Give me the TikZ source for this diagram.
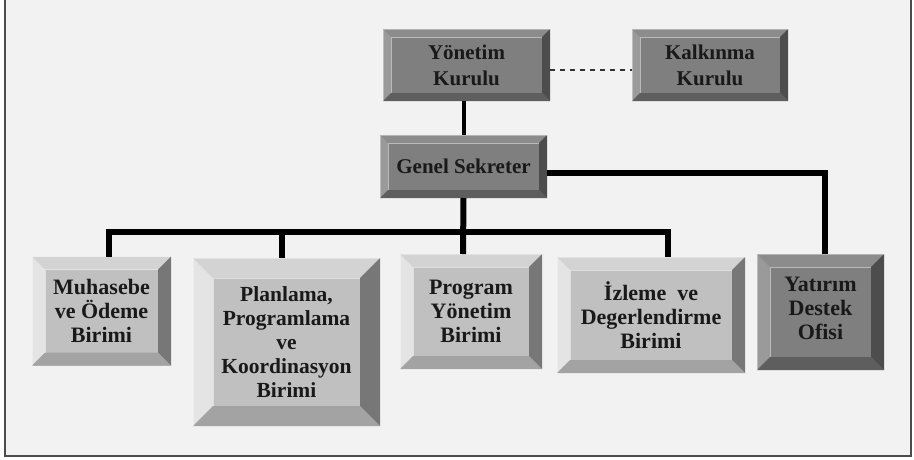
\documentclass[tikz,border=0pt]{standalone}
\usepackage{fontspec}
\setmainfont{Liberation Serif}
\begin{document}
\begin{tikzpicture}[x=1pt,y=-1pt,
  bev/.style n args={6}{% width, face, top, left, right, bottom
    fill=#2, draw=none, inner sep=0pt, outer sep=0pt, align=center,
    text=black!90,
    font=\fontsize{22}{24}\selectfont\bfseries,
    path picture={
      \path (path picture bounding box.north west) coordinate (ppnw)
            (path picture bounding box.north east) coordinate (ppne)
            (path picture bounding box.south west) coordinate (ppsw)
            (path picture bounding box.south east) coordinate (ppse);
      \fill[#3] (ppnw) -- (ppne) -- ([xshift=-#1pt,yshift=-#1pt]ppne) -- ([xshift=#1pt,yshift=-#1pt]ppnw) -- cycle;
      \fill[#4] (ppnw) -- (ppsw) -- ([xshift=#1pt,yshift=#1pt]ppsw) -- ([xshift=#1pt,yshift=-#1pt]ppnw) -- cycle;
      \fill[#5] (ppne) -- (ppse) -- ([xshift=-#1pt,yshift=#1pt]ppse) -- ([xshift=-#1pt,yshift=-#1pt]ppne) -- cycle;
      \fill[#6] (ppsw) -- (ppse) -- ([xshift=-#1pt,yshift=#1pt]ppse) -- ([xshift=#1pt,yshift=#1pt]ppsw) -- cycle;
      \draw[white, opacity=0.45, line width=0.8pt] ([xshift=#1pt,yshift=#1pt]ppsw) -- ([xshift=#1pt,yshift=-#1pt]ppnw) -- ([xshift=-#1pt,yshift=-#1pt]ppne);
      \draw[white, opacity=0.35, line width=0.8pt] (ppsw) -- (ppnw) -- (ppne);
    }},
  darkbox/.style={bev={#1}{darkface}{darktop}{darkleft}{darkright}{darkbottom}},
  lightbox/.style={bev={#1}{lightface}{lighttop}{lightleft}{lightright}{lightbottom}},
  topfont/.style={font=\fontsize{21}{26}\selectfont\bfseries},
  conn/.style={line width=6pt, black},
  thinconn/.style={line width=4pt, black},
  dashconn/.style={line width=2.2pt, black!80, dash pattern=on 5pt off 5pt}
]
\definecolor{bgc}{HTML}{F2F2F2}
\definecolor{darkface}{HTML}{7F7F7F}
\definecolor{darktop}{HTML}{8C8C8C}
\definecolor{darkleft}{HTML}{9A9A9A}
\definecolor{darkright}{HTML}{4D4D4D}
\definecolor{darkbottom}{HTML}{5E5E5E}
\definecolor{lightface}{HTML}{C0C0C0}
\definecolor{lighttop}{HTML}{D3D3D3}
\definecolor{lightleft}{HTML}{E4E4E4}
\definecolor{lightright}{HTML}{777777}
\definecolor{lightbottom}{HTML}{A3A3A3}

\useasboundingbox (0,0) rectangle (914,459);
\fill[white] (0,0) rectangle (914,459);
\fill[bgc] (5,-10) rectangle (911,455.5);
\draw[line width=2pt, black!70] (5,-10) rectangle (911,455.5);

% nodes
\node[darkbox=8, topfont, minimum width=167pt, minimum height=72pt] (yk) at (466.5,65) {Yönetim\\Kurulu};
\node[darkbox=8, topfont, minimum width=156pt, minimum height=72pt] (kk) at (710,65) {Kalkınma\\Kurulu};
\node[darkbox=8, topfont, minimum width=167pt, minimum height=63pt] (gs) at (463.5,166.5) {Genel Sekreter};

\node[lightbox=13, minimum width=139pt, minimum height=109pt] (muh) at (101.5,311) {Muhasebe\\ve Ödeme\\Birimi};
\node[lightbox=20, minimum width=187pt, minimum height=168pt,
      font=\fontsize{21.5}{24}\selectfont\bfseries] (pln) at (286.5,342) {Planlama,\\Programlama\\ve\\Koordinasyon\\Birimi};
\node[lightbox=13, minimum width=142pt, minimum height=115pt] (pym) at (471,311.5) {Program\\Yönetim\\Birimi};
\node[lightbox=13, minimum width=188pt, minimum height=116pt] (izl) at (651,315) {İzleme~~ve\\Degerlendirme\\Birimi};
\node[darkbox=13, minimum width=127pt, minimum height=116pt] (yat) at (820.5,312) {Yatırım\\Destek\\Ofisi\rule[-8pt]{0pt}{1pt}};

% connectors
\coordinate (busL) at (109,232);
\coordinate (busR) at (668,232);
\draw[dashconn] ([yshift=-5pt]yk.east) -- ([yshift=-5pt]kk.west);
\draw[thinconn] ([xshift=-2.5pt]yk.south) -- ([xshift=-2.5pt]yk.south |- gs.north);
\draw[conn] (gs.south) -- ([xshift=-8pt]pym.north);
\draw[conn] (busL |- muh.north) -- (busL) -- (busR) -- (busR |- izl.north);
\draw[conn] ([xshift=-4.5pt]pln.north |- busL) -- ([xshift=-4.5pt]pln.north);
\draw[conn] ([yshift=-6.5pt]gs.east) -| ([xshift=4.5pt]yat.north);
\end{tikzpicture}
\end{document}
